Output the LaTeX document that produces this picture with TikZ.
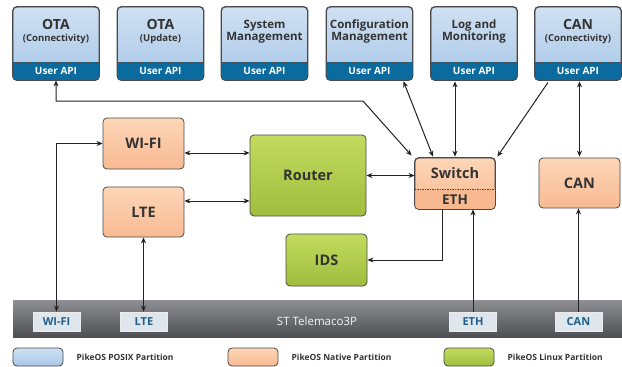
\documentclass[tikz,border=0pt]{standalone}
\usepackage{fontspec}
\setmainfont{Open Sans}
\usetikzlibrary{arrows.meta, positioning, calc}

\definecolor{posixtop}{HTML}{CFE0F2}
\definecolor{posixbot}{HTML}{A9C8E8}
\definecolor{apiblue}{HTML}{0B6B9E}
\definecolor{nativetop}{HTML}{FDD6B8}
\definecolor{nativebot}{HTML}{F8BA92}
\definecolor{ethfill}{HTML}{F8B990}
\definecolor{linuxtop}{HTML}{C3DB5E}
\definecolor{linuxbot}{HTML}{9FBD3E}
\definecolor{boxline}{HTML}{4A4A4A}
\definecolor{textdark}{HTML}{333333}
\definecolor{linkcol}{HTML}{222222}
\definecolor{bartop}{HTML}{8E8F92}
\definecolor{barbot}{HTML}{4E4F52}
\definecolor{hwfill}{HTML}{DFE7EC}
\definecolor{hwtext}{HTML}{1F5F8A}

\tikzset{
  part/.style={rounded corners=4pt, draw=boxline, line width=0.8pt, inner sep=0pt,
    text=textdark, font=\bfseries\fontsize{14.5}{16}\selectfont},
  posix/.style={part, top color=posixtop, bottom color=posixbot},
  native/.style={part, top color=nativetop, bottom color=nativebot},
  linux/.style={part, top color=linuxtop, bottom color=linuxbot},
  apptitle/.style={align=center, text=textdark, inner sep=0pt, font=\bfseries},
  apitext/.style={text=white, font=\bfseries\fontsize{10}{11}\selectfont, inner sep=0pt},
  link/.style={draw=linkcol, line width=1pt},
  hwport/.style={minimum width=47pt, minimum height=19pt, inner sep=0pt, fill=hwfill,
    draw=white!85!gray, line width=0.8pt, text=hwtext, font=\bfseries\fontsize{11}{12}\selectfont},
  legendtext/.style={text=textdark, font=\bfseries\fontsize{8.5}{10}\selectfont, inner sep=0pt},
  >={Stealth[length=6pt,width=5pt]}
}

\newcommand{\otatitle}[2]{\fontsize{14}{15}\selectfont #1\\\fontsize{9.5}{12}\selectfont #2}
\newcommand{\apptwo}[2]{\fontsize{11.5}{13.5}\selectfont #1\\\fontsize{11.5}{13.5}\selectfont #2}

\begin{document}
\begin{tikzpicture}[x=1pt,y=-1pt]
\useasboundingbox (0,0) rectangle (622,367);

% application partitions with user API
\foreach \n/\x/\t in {otac/56/{\otatitle{OTA}{(Connectivity)}},
                      otau/160.5/{\otatitle{OTA}{(Update)}},
                      sysm/264.5/{\apptwo{System}{Management}},
                      conf/369.5/{\apptwo{Configuration}{Management}},
                      logm/474/{\apptwo{Log and}{Monitoring}},
                      canc/578/{\otatitle{CAN}{(Connectivity)}}}{
  \node[posix, minimum width=86pt, minimum height=73pt] (\n) at (\x,43.5) {};
  \fill[apiblue, rounded corners=4pt] (\n.south west) rectangle ([yshift=18pt]\n.south east);
  \fill[apiblue] ([yshift=9pt]\n.south west) rectangle ([yshift=18pt]\n.south east);
  \draw[boxline, dash pattern=on 1.5pt off 1pt, line width=0.6pt] ([yshift=18pt]\n.south west) -- ([yshift=18pt]\n.south east);
  \draw[boxline, line width=0.8pt, rounded corners=4pt] (\n.south west) rectangle (\n.north east);
  \node[apitext] (\n-api) at ([yshift=9pt]\n.south) {User API};
  \node[apptitle] (\n-title) at (\x,31.5) {\t};
}

% native and linux partitions
\node[native, minimum width=81pt, minimum height=51pt] (wifi) at (143.5,143.5) {WI-FI};
\node[native, minimum width=81pt, minimum height=50pt] (lte) at (143.5,212) {LTE};
\node[linux, minimum width=116pt, minimum height=81pt] (router) at (308,175.5) {Router};
\node[linux, minimum width=81pt, minimum height=52pt] (ids) at (326.5,260) {IDS};
\node[native, minimum width=81pt, minimum height=50pt] (can) at (579.5,183) {CAN};

% switch with ETH part
\node[native, minimum width=80pt, minimum height=51pt] (switch) at (455,183.5) {};
\fill[ethfill, rounded corners=4pt] (switch.south west) rectangle ([yshift=20pt]switch.south east);
\fill[ethfill] ([yshift=10pt]switch.south west) rectangle ([yshift=20pt]switch.south east);
\draw[boxline, dash pattern=on 1.5pt off 1pt, line width=0.6pt] ([yshift=20pt]switch.south west) -- ([yshift=20pt]switch.south east);
\draw[boxline, line width=0.8pt, rounded corners=4pt] (switch.south west) rectangle (switch.north east);
\node[text=textdark, font=\bfseries\fontsize{14.5}{16}\selectfont, inner sep=0pt] (switch-label) at (455,173) {Switch};
\node[text=textdark, font=\bfseries\fontsize{13.5}{15}\selectfont, inner sep=0pt] (eth) at (455,199.5) {ETH};

% hardware
\node[minimum width=609pt, minimum height=37pt, inner sep=0pt, top color=bartop, bottom color=barbot] (board) at (317.5,318.5) {};
\node[text=white!92!gray, font=\fontsize{11.5}{13}\selectfont, inner sep=0pt] (board-label) at (317,321.5) {ST Telemaco3P};
\node[hwport] (hwwifi) at (56.5,321.5) {WI-FI};
\node[hwport] (hwlte) at (144,321.5) {LTE};
\node[hwport] (hweth) at (473,321.5) {ETH};
\node[hwport] (hwcan) at (578.5,321.5) {CAN};

% connections
\coordinate (bend) at (363,101);
\draw[link, <->] (otac.south) |- (bend) -- ([xshift=-3pt,yshift=2pt]switch.north west);
\draw[link, <->] ([xshift=34pt,yshift=-1pt]conf.south) -- ([xshift=-22pt,yshift=1pt]switch.north);
\draw[link, <->] ([yshift=-1pt]logm.south -| switch.north) -- ([yshift=1pt]switch.north);
\draw[link, ->] ([xshift=-30pt,yshift=-2pt]canc.south) -- ([xshift=2pt,yshift=1pt]switch.north east);
\draw[link, <->] ([yshift=-1pt]canc.south -| can.north) -- ([yshift=1pt]can.north);
\draw[link, <->] ([yshift=-9.5pt]wifi.east) -- ([yshift=-9.5pt]wifi.east -| router.west);
\draw[link, <->] ([yshift=11pt]lte.east) -- ([yshift=11pt]lte.east -| router.west);
\draw[link, <->] (router.east) -- (router.east -| switch.west);
\draw[link, ->] ([xshift=-13pt]switch.south) |- (ids.east);
\draw[link, ->] (hweth.north) -- (hweth.north |- switch.south);
\draw[link, ->] (hwcan.north) -- (hwcan.north |- can.south);
\draw[link, <->] (hwwifi.north) |- (wifi.west);
\draw[link, <->] (lte.south) -- (lte.south |- hwlte.north);

% legend
\node[posix, minimum width=50pt, minimum height=18pt] (key-posix) at (38,357) {};
\node[legendtext, right=13pt of key-posix] (key-posix-text) {PikeOS POSIX Partition};
\node[native, minimum width=50pt, minimum height=18pt] (key-native) at (253,357) {};
\node[legendtext, right=13pt of key-native] (key-native-text) {PikeOS Native Partition};
\node[linux, minimum width=50pt, minimum height=18pt] (key-linux) at (469,357) {};
\node[legendtext, right=13pt of key-linux] (key-linux-text) {PikeOS Linux Partition};
\end{tikzpicture}
\end{document}
